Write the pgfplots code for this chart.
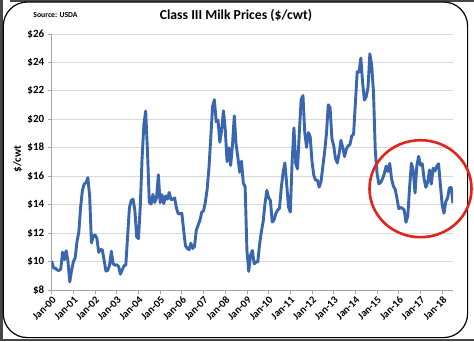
\documentclass[border=0pt]{standalone}
\usepackage{pgfplots}
\pgfplotsset{compat=1.18}
\usepackage{fontspec}
\setmainfont{Carlito}
\definecolor{lineblue}{HTML}{3A66AF}
\definecolor{gridgray}{HTML}{D9D9D9}
\definecolor{axgray}{HTML}{A6A6A6}
\definecolor{circred}{HTML}{E2231A}
\begin{document}
\begin{tikzpicture}[x=1pt,y=1pt]
\fill[white] (0,0) rectangle (474,341);
\fill[black!72] (0,0) rectangle (2.6,341);
\fill[black!72] (0,0) rectangle (474,2.4);
\fill[black!72] (10,339.3) rectangle (474,341);
\draw[black, line width=1.2pt, fill=white, rounded corners=24pt] (3.3,3.4) rectangle (467.6,339);
\begin{axis}[
  scale only axis, width=401.3pt, height=256pt,
  at={(51.7pt,51pt)}, anchor=south west,
  xmin=0, xmax=222, ymin=8, ymax=26,
  ytick={8,10,...,26},
  yticklabels={\$8,\$10,\$12,\$14,\$16,\$18,\$20,\$22,\$24,\$26},
  xtick={0,12,...,216},
  xticklabels={Jan-00,Jan-01,Jan-02,Jan-03,Jan-04,Jan-05,Jan-06,Jan-07,Jan-08,Jan-09,Jan-10,Jan-11,Jan-12,Jan-13,Jan-14,Jan-15,Jan-16,Jan-17,Jan-18},
  x tick label style={rotate=45, anchor=north east, font=\bfseries\fontsize{10.5}{12}\selectfont, inner sep=1pt},
  y tick label style={font=\bfseries\fontsize{11}{13}\selectfont},
  ymajorgrids, grid style={gridgray, line width=0.9pt},
  axis x line*=bottom, axis y line*=left,
  axis line style={axgray, line width=0.9pt},
  tick style={axgray, line width=0.8pt}, tick align=outside, major tick length=4pt,
]
\addplot[lineblue, line width=2.9pt, line join=round] coordinates {
(0,10.05)(1,9.54)(2,9.54)(3,9.41)(4,9.37)(5,9.46)(6,10.66)(7,10.13)(8,10.76)(9,10.02)(10,8.57)(11,9.37)
(12,9.99)(13,10.27)(14,11.42)(15,12.06)(16,13.83)(17,15.02)(18,15.46)(19,15.55)(20,15.90)(21,14.60)(22,11.31)(23,11.80)
(24,11.87)(25,11.63)(26,10.65)(27,10.85)(28,10.82)(29,10.09)(30,9.33)(31,9.38)(32,9.75)(33,10.72)(34,9.84)(35,9.74)
(36,9.78)(37,9.66)(38,9.11)(39,9.41)(40,9.71)(41,9.75)(42,11.78)(43,13.80)(44,14.30)(45,14.39)(46,13.61)(47,11.75)
(48,11.61)(49,13.89)(50,17.26)(51,19.66)(52,20.58)(53,17.68)(54,14.15)(55,14.04)(56,14.72)(57,14.16)(58,14.49)(59,16.10)
(60,14.14)(61,14.70)(62,14.08)(63,14.61)(64,14.39)(65,14.86)(66,14.35)(67,14.38)(68,14.48)(69,13.76)(70,13.35)(71,13.37)
(72,13.39)(73,12.20)(74,11.11)(75,10.93)(76,10.83)(77,11.29)(78,10.92)(79,11.06)(80,12.20)(81,12.56)(82,12.90)(83,13.47)
(84,13.56)(85,14.18)(86,15.09)(87,16.60)(88,18.70)(89,20.91)(90,21.38)(91,19.83)(92,19.94)(93,18.39)(94,19.22)(95,20.60)
(96,19.32)(97,17.03)(98,18.00)(99,16.76)(100,18.18)(101,20.25)(102,18.24)(103,17.32)(104,16.28)(105,17.06)(106,15.51)(107,15.28)
(108,10.78)(109,9.31)(110,10.44)(111,10.78)(112,9.84)(113,9.97)(114,9.97)(115,11.20)(116,12.11)(117,12.82)(118,14.08)(119,15.01)
(120,14.50)(121,14.28)(122,12.78)(123,12.92)(124,13.38)(125,13.62)(126,13.74)(127,15.18)(128,16.26)(129,16.94)(130,15.44)(131,13.83)
(132,13.48)(133,17.00)(134,19.40)(135,16.87)(136,16.52)(137,19.11)(138,21.39)(139,21.67)(140,19.07)(141,18.03)(142,19.07)(143,18.77)
(144,17.05)(145,16.06)(146,15.72)(147,15.72)(148,15.23)(149,15.63)(150,16.68)(151,17.73)(152,19.00)(153,21.02)(154,20.83)(155,18.66)
(156,18.14)(157,17.25)(158,16.93)(159,17.59)(160,18.52)(161,18.02)(162,17.38)(163,17.91)(164,18.14)(165,18.22)(166,18.83)(167,18.95)
(168,21.15)(169,23.35)(170,23.33)(171,24.31)(172,22.57)(173,21.36)(174,21.60)(175,22.25)(176,24.60)(177,23.82)(178,21.94)(179,17.82)
(180,16.18)(181,15.46)(182,15.56)(183,15.81)(184,16.19)(185,16.72)(186,16.33)(187,16.90)(188,15.82)(189,15.30)(190,15.09)(191,14.44)
(192,13.72)(193,13.80)(194,13.74)(195,13.63)(196,12.76)(197,13.22)(198,15.24)(199,16.91)(200,16.39)(201,14.82)(202,16.76)(203,17.40)
(204,16.77)(205,16.88)(206,15.81)(207,15.22)(208,15.57)(209,16.44)(210,15.45)(211,16.57)(212,16.36)(213,16.69)(214,16.88)(215,15.44)
(216,14.00)(217,13.40)(218,14.22)(219,14.47)(220,15.18)(221,15.21)(222,14.10)
};
\end{axis}
\draw[circred, line width=2.6pt] (420.5,152.3) ellipse [x radius=51, y radius=48.5];
\node[font=\bfseries\fontsize{13.7}{16}\selectfont] at (236,325.5) {Class III Milk Prices (\$/cwt)};
\node[font=\bfseries\fontsize{7.7}{9}\selectfont] at (55.5,326.3) {Source: USDA};
\node[font=\bfseries\fontsize{11}{13}\selectfont, rotate=90] at (17.5,182) {\$/cwt};
\end{tikzpicture}
\end{document}
